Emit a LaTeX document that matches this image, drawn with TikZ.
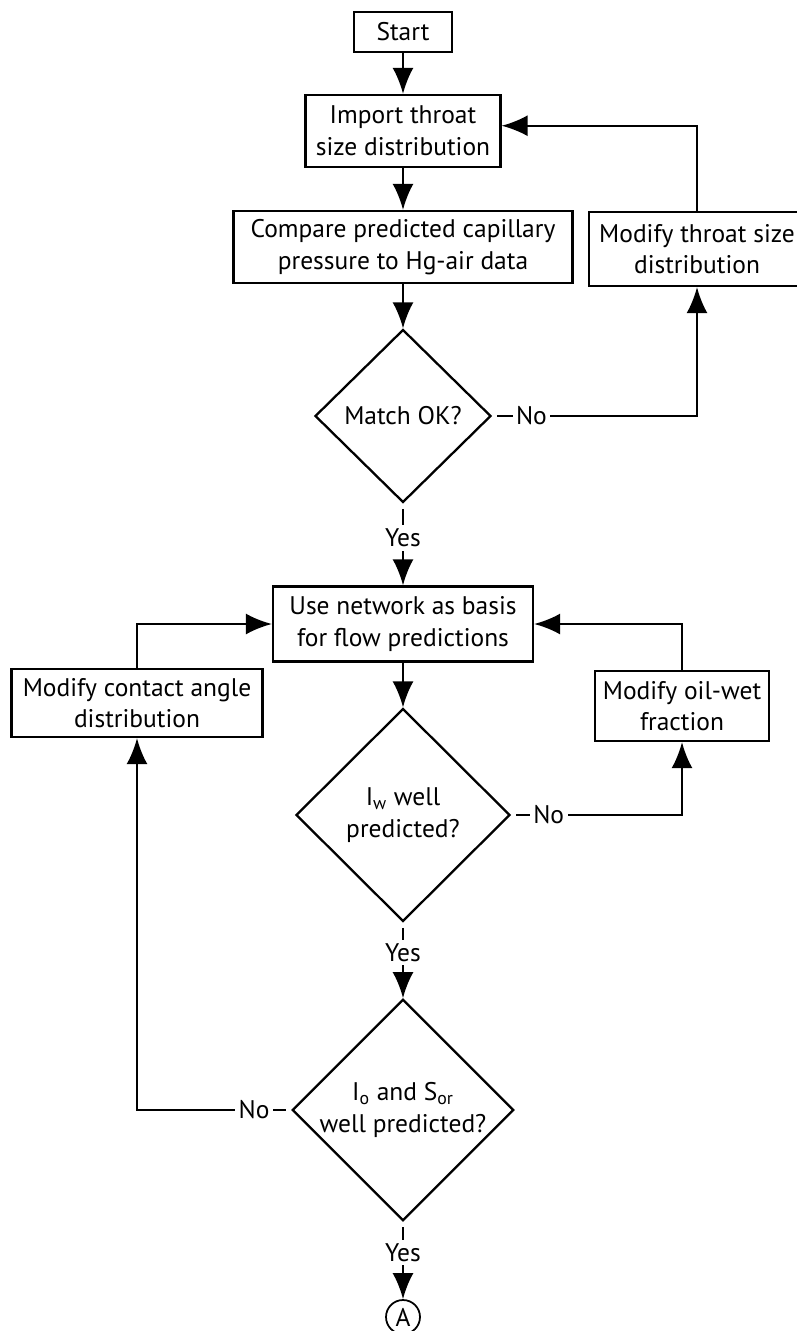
\documentclass[tikz,border=0pt]{standalone}
\usepackage{fontspec}
\setmainfont{PT Sans}
\usepackage{tikz}
\usetikzlibrary{
	arrows.meta,shapes.geometric
}

\begin{document}
\begin{tikzpicture}[x=0.02cm,y=-0.02cm,line width=1.3pt,
		>={Latex[length=5.2mm,width=4.2mm]},
		font=\fontsize{14.5}{18}\selectfont,
		box/.style={draw,rectangle,align=center,inner sep=0pt},
		dec/.style={draw,diamond,aspect=1,align=center,inner sep=0pt},
		lbl/.style={fill=white,inner sep=2pt}]
		\useasboundingbox (0,0) rectangle (797,1331);
		%
		\node[box,minimum width=1.96cm,minimum height=0.80cm] (start) at (403,32) {Start};
		\node[box,minimum width=3.90cm,minimum height=1.44cm] (import) at (403,131) {Import throat\\size distribution};
		\node[box,minimum width=6.78cm,minimum height=1.44cm] (compare) at (403,247) {Compare predicted capillary\\pressure to Hg-air data};
		\node[box,minimum width=4.32cm,minimum height=1.48cm] (throat) at (697,249) {Modify throat size\\distribution};
		\node[dec,minimum width=3.52cm,minimum height=3.46cm] (match) at (403,416) {Match OK?};
		\node[box,minimum width=5.20cm,minimum height=1.50cm] (net) at (403,624) {Use network as basis\\for flow predictions};
		\node[box,minimum width=5.02cm,minimum height=1.36cm] (contact) at (137,703) {Modify contact angle\\distribution};
		\node[box,minimum width=3.48cm,minimum height=1.40cm] (oilwet) at (682,706) {Modify oil-wet\\fraction};
		\node[dec,minimum width=4.28cm,minimum height=4.26cm] (iw) at (403,815) {I\textsubscript{w} well\\predicted?};
		\node[dec,minimum width=4.26cm,minimum height=4.26cm] (io) at (403,1110) {I\textsubscript{o} and S\textsubscript{or}\\well predicted?};
		\node[draw,circle,minimum size=0.68cm,inner sep=0pt,line width=1pt] (A) at (403,1317) {A};
		%
		\path[->]
			(start) edge (import)
			(import) edge (compare)
			(compare) edge (match)
			(net) edge (iw)
			(match) edge[shorten <=3pt] node[lbl,pos=0.42]{Yes} (net)
			(iw) edge[shorten <=3pt] node[lbl,pos=0.40]{Yes} (io)
			(io) edge[shorten <=3pt] node[lbl,pos=0.40]{Yes} (A);
		%
		\draw[->,shorten <=3pt] (match.east) -| node[lbl,pos=0.096]{No} (throat.south);
		\draw[->] (throat.north) |- ([yshift=3pt]import.east);
		\draw[->,shorten <=3pt] (iw.east) -| node[lbl,pos=0.11]{No} (oilwet.south);
		\draw[->] (oilwet.north) |- (net.east);
		\draw[->,shorten <=3pt] (io.west) -| node[lbl,pos=0.12]{No} (contact.south);
		\draw[->] (contact.north) |- (net.west);
	\end{tikzpicture}
\end{document}
